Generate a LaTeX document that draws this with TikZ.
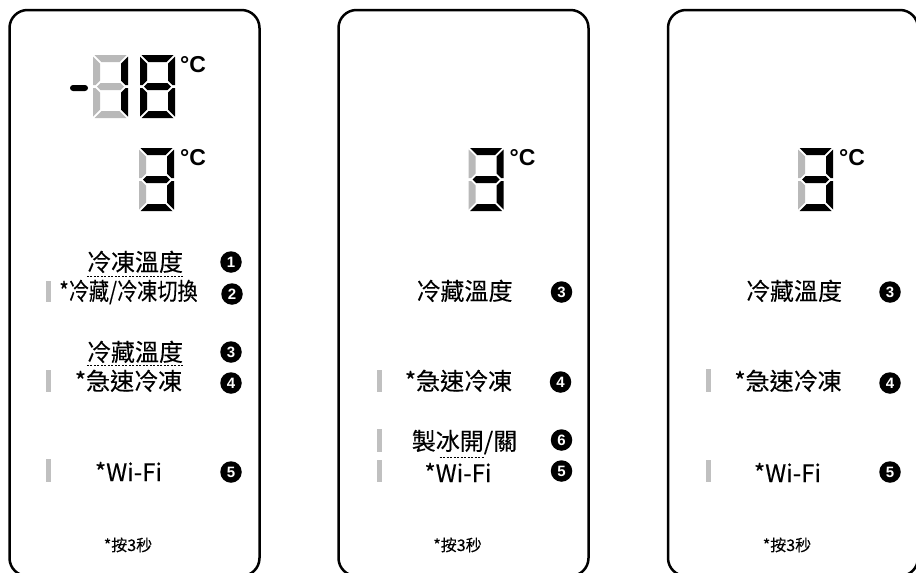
\documentclass[tikz,border=0pt]{standalone}
\usepackage{fontspec}
\setmainfont{Noto Sans CJK TC}[FakeBold=0.2]
\newfontfamily\numfont{Liberation Sans}
\definecolor{seggray}{RGB}{185,185,185}
\definecolor{bargray}{RGB}{192,192,192}
\newcommand{\sevenseg}[9]{%
 \begin{scope}[shift={(#1,#2)}]
  \fill[#3] (1.5,0) -- (33.5,0) -- (26.5,7) -- (8.5,7) -- cycle;
  \fill[#4] (35,1.5) -- (35,30) -- (32.5,30) -- (28,25.5) -- (28,8.5) -- cycle;
  \fill[#5] (35,61.5) -- (35,33) -- (32.5,33) -- (28,37.5) -- (28,54.5) -- cycle;
  \fill[#6] (1.5,63) -- (33.5,63) -- (26.5,56) -- (8.5,56) -- cycle;
  \fill[#7] (0,61.5) -- (0,33) -- (2.5,33) -- (7,37.5) -- (7,54.5) -- cycle;
  \fill[#8] (0,1.5) -- (0,30) -- (2.5,30) -- (7,25.5) -- (7,8.5) -- cycle;
  \fill[#9] (4,31.5) -- (7.5,28) -- (27.5,28) -- (31,31.5) -- (27.5,35) -- (7.5,35) -- cycle;
 \end{scope}}
\tikzset{
  panel/.style={draw=black, line width=2.5pt, rounded corners=18pt},
  lbl/.style={inner sep=0pt, anchor=base, font=\fontsize{24}{24}\selectfont},
  small/.style={inner sep=0pt, anchor=base, font=\fontsize{16}{16}\selectfont},
  deg/.style={inner sep=0pt, anchor=base west, font=\numfont\bfseries\fontsize{23}{23}\selectfont},
  num/.style={circle, fill=black, text=white, minimum size=21.5pt, inner sep=0pt, font=\numfont\bfseries\fontsize{15}{15}\selectfont},
  uline/.style={draw=black, line width=0.8pt, dash pattern=on 2pt off 1.5pt},
  bar/.style={fill=bargray}
}
\begin{document}
\begin{tikzpicture}[x=1pt,y=-1pt]
\useasboundingbox (0,0) rectangle (916,573);
\fill[white] (0,0) rectangle (916,573);
% ---------- panel 1 ----------
\draw[panel] (9.5,10) rectangle (259.5,576);
\fill[black, rounded corners=3pt] (70,85) rectangle (88,91);
\sevenseg{93}{55}{seggray}{black}{black}{seggray}{seggray}{seggray}{seggray}
\sevenseg{140}{55}{black}{black}{black}{black}{black}{black}{black}
\node[deg] (p1deg1) at (180,72) {°C};
\sevenseg{139}{148}{black}{black}{black}{black}{seggray}{seggray}{black}
\node[deg] (p1deg2) at (180,165) {°C};
\node[lbl] (p1a) at (135,271) {冷凍溫度};
\draw[uline] ([yshift=-5pt]p1a.base west) -- ([yshift=-5pt]p1a.base east);
\node[lbl] (p1b) at (128.5,300) {\scalebox{0.84}[1]{*冷藏/冷凍切換}};
\node[lbl] (p1c) at (135,361) {冷藏溫度};
\draw[uline] ([yshift=-4.5pt]p1c.base west) -- ([yshift=-4.5pt]p1c.base east);
\node[lbl] (p1d) at (128.5,390) {*急速冷凍};
\node[lbl] (p1e) at (128.5,481) {*Wi-Fi};
\node[small] (p1f) at (128,551) {*按3秒};
\node[num] (p1n1) at (231,262) {1};
\node[num] (p1n2) at (232,294) {2};
\node[num] (p1n3) at (231,352) {3};
\node[num] (p1n4) at (231,383) {4};
\node[num] (p1n5) at (231,472) {5};
\fill[bar] (46,281) rectangle (51,302);
\fill[bar] (46,370) rectangle (51,392);
\fill[bar] (46,459) rectangle (51,482);
% ---------- panel 2 ----------
\begin{scope}[xshift=329.5pt]
\draw[panel] (9,10) rectangle (259,576);
\sevenseg{139}{148}{black}{black}{black}{black}{seggray}{seggray}{black}
\node[deg] (p2deg) at (180,165) {°C};
\node[lbl] (p2a) at (135,300) {冷藏溫度};
\node[lbl] (p2b) at (129,390) {*急速冷凍};
\node[lbl] (p2c) at (135,450) {製冰開/關};
\draw[uline] ([xshift=28pt,yshift=-7pt]p2c.base west) -- ([xshift=72pt,yshift=-7pt]p2c.base west);
\node[lbl] (p2d) at (128.5,482) {*Wi-Fi};
\node[small] (p2e) at (128,551) {*按3秒};
\node[num] (p2n3) at (232,292) {3};
\node[num] (p2n4) at (231,382) {4};
\node[num] (p2n6) at (232,440) {6};
\node[num] (p2n5) at (232,471) {5};
\fill[bar] (47,370) rectangle (52,392);
\fill[bar] (47,429) rectangle (52,452);
\fill[bar] (47,460) rectangle (52,482);
\end{scope}
% ---------- panel 3 ----------
\begin{scope}[xshift=659pt]
\draw[panel] (9,10) rectangle (259,576);
\sevenseg{139}{148}{black}{black}{black}{black}{seggray}{seggray}{black}
\node[deg] (p3deg) at (180,165) {°C};
\node[lbl] (p3a) at (135,300) {冷藏溫度};
\node[lbl] (p3b) at (129,390) {*急速冷凍};
\node[lbl] (p3d) at (128.5,482) {*Wi-Fi};
\node[small] (p3e) at (128,551) {*按3秒};
\node[num] (p3n3) at (231,292) {3};
\node[num] (p3n4) at (231,383) {4};
\node[num] (p3n5) at (231,472) {5};
\fill[bar] (47,369) rectangle (52,392);
\fill[bar] (47,460) rectangle (52,482);
\end{scope}
\end{tikzpicture}
\end{document}
